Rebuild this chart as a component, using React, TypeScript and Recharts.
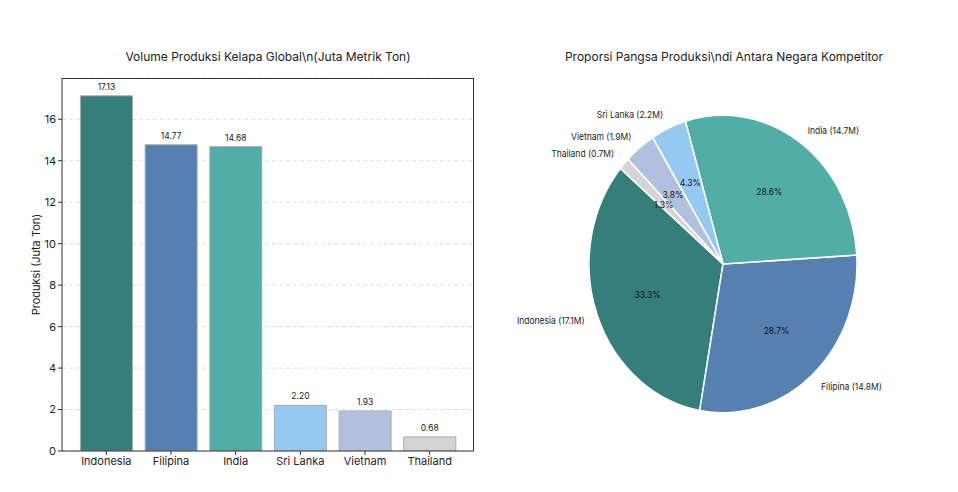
import React from "react"
import { BarChart, Bar, XAxis, YAxis, CartesianGrid, LabelList, Cell, PieChart, Pie } from "recharts"

const countries = ["Indonesia", "Filipina", "India", "Sri Lanka", "Vietnam", "Thailand"]
const production = [17.13, 14.77, 14.68, 2.2, 1.93, 0.68]
const colors = ["#357e79", "#5580b0", "#52ada6", "#95c9f1", "#b1c1dd", "#d4d4d4"]
const yTicks = [0, 2, 4, 6, 8, 10, 12, 14, 16]

const data = countries.map((name, i) => ({ name, value: production[i], color: colors[i] }))
const total = production.reduce((a, b) => a + b, 0)

const font = "Inter, 'Open Sans', sans-serif"
const RAD = Math.PI / 180

function PieLabel(props: any) {
  const { cx, cy, midAngle, outerRadius, name, value } = props
  const cos = Math.cos(-midAngle * RAD)
  const sin = Math.sin(-midAngle * RAD)
  const ox = cx + outerRadius * 1.1 * cos
  const oy = cy + outerRadius * 1.1 * sin
  const ix = cx + outerRadius * 0.6 * cos
  const iy = cy + outerRadius * 0.6 * sin
  return (
    <g>
      <text x={ox} y={oy} textAnchor={cos >= 0 ? "start" : "end"} dominantBaseline="central" fontSize={8.5} fill="#222">
        {`${name} (${value.toFixed(1)}M)`}
      </text>
      <text x={ix} y={iy} textAnchor="middle" dominantBaseline="central" fontSize={8.5} fill="#111">
        {`${((value / total) * 100).toFixed(1)}%`}
      </text>
    </g>
  )
}

export default function App() {
  return (
    <div style={{ position: "fixed", left: 0, top: 0, width: 958, height: 492, background: "#fff", fontFamily: font }}>
      <div style={{ position: "absolute", left: 62, width: 412, top: 49, textAlign: "center", fontSize: 12, color: "#222" }}>
        {"Volume Produksi Kelapa Global\\n(Juta Metrik Ton)"}
      </div>
      <div style={{ position: "absolute", left: 0, top: 0 }}>
        <BarChart
          width={500}
          height={492}
          data={data}
          margin={{ top: 78, right: 26, bottom: 11, left: 22 }}
          barCategoryGap="10%"
          style={{ fontFamily: font }}
        >
          <CartesianGrid vertical={false} stroke="#dcdcdc" strokeDasharray="4 3" />
          <XAxis
            dataKey="name"
            padding={{ left: 12, right: 12 }}
            tick={{ fontSize: 11, fill: "#222" }}
            tickLine={{ stroke: "#333" }}
            tickSize={4}
            axisLine={{ stroke: "#333" }}
            height={30}
            interval={0}
          />
          <YAxis
            domain={[0, 17.99]}
            ticks={yTicks}
            tick={{ fontSize: 11, fill: "#222" }}
            tickLine={{ stroke: "#333" }}
            tickSize={4}
            axisLine={{ stroke: "#333" }}
            width={40}
            allowDataOverflow
            label={{ value: "Produksi (Juta Ton)", angle: -90, position: "insideLeft", dx: 9, style: { fontSize: 11, fill: "#222", textAnchor: "middle" } }}
          />
          <Bar dataKey="value" isAnimationActive={false} stroke="#aaaaaa" strokeWidth={1}>
            {data.map((d, i) => (
              <Cell key={`bar-${i}`} fill={d.color} />
            ))}
            <LabelList dataKey="value" position="top" offset={6} formatter={(v: any) => Number(v).toFixed(2)} style={{ fontSize: 8.5, fill: "#222" }} />
          </Bar>
        </BarChart>
      </div>
      <div style={{ position: "absolute", left: 62, top: 78, width: 412, height: 373, boxSizing: "border-box", borderTop: "1px solid #333", borderRight: "1px solid #333", pointerEvents: "none" }} />
      <div style={{ position: "absolute", left: 500, width: 448, top: 49, textAlign: "center", fontSize: 12, color: "#222" }}>
        {"Proporsi Pangsa Produksi\\ndi Antara Negara Kompetitor"}
      </div>
      <div style={{ position: "absolute", left: 500, top: 114, transform: "scaleY(1.11)", transformOrigin: "0 150px" }}>
        <PieChart width={448} height={300} margin={{ top: 0, right: 0, bottom: 0, left: 0 }} style={{ fontFamily: font }}>
          <Pie
            data={data}
            dataKey="value"
            nameKey="name"
            cx={223}
            cy={150}
            outerRadius={134}
            startAngle={140}
            endAngle={500}
            stroke="#ffffff"
            strokeWidth={1.5}
            label={PieLabel}
            labelLine={false}
            isAnimationActive={false}
          >
            {data.map((d, i) => (
              <Cell key={`slice-${i}`} fill={d.color} />
            ))}
          </Pie>
        </PieChart>
      </div>
    </div>
  )
}
